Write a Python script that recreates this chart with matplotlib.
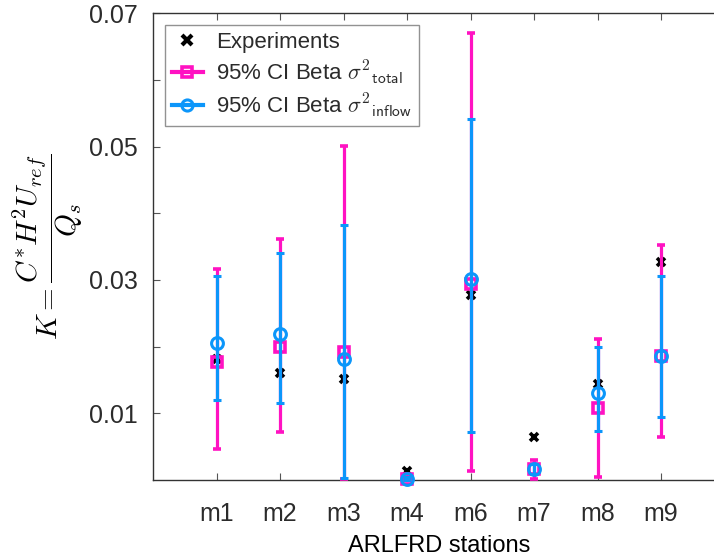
import matplotlib
matplotlib.use("Agg")
import matplotlib.pyplot as plt
from matplotlib.lines import Line2D
import numpy as np

stations = ["m1", "m2", "m3", "m4", "m6", "m7", "m8", "m9"]
experiments = [0.0182, 0.0160, 0.0152, 0.0014, 0.0278, 0.0064, 0.0144, 0.0327]

total_mid = [0.0177, 0.0199, 0.0192, 0.0002, 0.0294, 0.0017, 0.0108, 0.0186]
total_low = [0.0046, 0.0072, 0.0002, 0.0000, 0.0014, 0.0001, 0.0004, 0.0064]
total_high = [0.0317, 0.0362, 0.0501, 0.0005, 0.0671, 0.0030, 0.0211, 0.0352]

inflow_mid = [0.0205, 0.0219, 0.0182, 0.0002, 0.0302, 0.0016, 0.0130, 0.0186]
inflow_low = [0.0120, 0.0115, 0.0003, 0.0000, 0.0072, 0.0009, 0.0074, 0.0095]
inflow_high = [0.0306, 0.0340, 0.0383, 0.0004, 0.0542, 0.0024, 0.0199, 0.0306]

yticks = [0.01, 0.02, 0.03, 0.04, 0.05, 0.06, 0.07]
ytick_labels = ["0.01", "", "0.03", "", "0.05", "", "0.07"]

PINK = "#FF12C2"
BLUE = "#0C96FA"
TXT = "#2b2b2b"
FONT = ["Liberation Sans", "DejaVu Sans"]

plt.rcParams["font.family"] = FONT
plt.rcParams["text.color"] = TXT
plt.rcParams["xtick.labelcolor"] = TXT
plt.rcParams["ytick.labelcolor"] = TXT
plt.rcParams["mathtext.fontset"] = "cm"

fig = plt.figure(figsize=(7.14, 5.57), dpi=100)
ax = fig.add_axes([153 / 714, 77 / 557, 571.5 / 714, 466.7 / 557])

x = np.arange(1, len(stations) + 1)

ax.plot(x, experiments, linestyle="none", marker="x", color="black",
        markersize=6, markeredgewidth=2.6, clip_on=False, zorder=3)

def ci(mid, low, high):
    mid = np.array(mid); low = np.array(low); high = np.array(high)
    return mid, np.vstack([mid - low, high - mid])

m, err = ci(total_mid, total_low, total_high)
ax.errorbar(x, m, yerr=err, fmt="s", color=PINK, ecolor=PINK, elinewidth=2.3,
            capsize=3.2, capthick=2.3, markersize=7, markerfacecolor="none",
            markeredgewidth=2.6, clip_on=False, zorder=4)

m, err = ci(inflow_mid, inflow_low, inflow_high)
ax.errorbar(x, m, yerr=err, fmt="o", color=BLUE, ecolor=BLUE, elinewidth=2.3,
            capsize=3.2, capthick=2.3, markersize=8.5, markerfacecolor="none",
            markeredgewidth=2.2, clip_on=False, zorder=5)

ax.set_xlim(0, 9)
ax.set_ylim(0, 0.07)
ax.set_xticks(x)
ax.set_xticklabels(stations, fontsize=18)
ax.set_yticks(yticks)
ax.set_yticklabels(ytick_labels, fontsize=18)
ax.tick_params(direction="in", length=5, width=0.8, color="#555555",
               top=True, right=True)
ax.tick_params(axis="x", pad=16)
ax.tick_params(axis="y", pad=11)
for s in ax.spines.values():
    s.set_color("#333333")
    s.set_linewidth(1.0)

ax.set_xlabel("ARLFRD stations", fontsize=17, labelpad=6)
ax.set_ylabel(r"$K = \dfrac{C^{*}H^{2}U_{ref}}{Q_s}$", fontsize=21, labelpad=3,
              color="black")

handles = [
    Line2D([], [], linestyle="none", marker="x", color="black", markersize=7,
           markeredgewidth=3),
    Line2D([], [], color=PINK, linewidth=3, marker="s", markersize=7,
           markerfacecolor="none", markeredgewidth=2.6),
    Line2D([], [], color=BLUE, linewidth=3, marker="o", markersize=8,
           markerfacecolor="none", markeredgewidth=2.2),
]
labels = ["Experiments", r"95% CI Beta $\sigma^{2}{}_{\mathsf{total}}$",
          r"95% CI Beta $\sigma^{2}{}_{\mathsf{inflow}}$"]
leg = ax.legend(handles, labels, loc="upper left", bbox_to_anchor=(0.021, 0.975),
                fontsize=16, frameon=True, fancybox=False, handlelength=1.4,
                handletextpad=0.6, borderpad=0.3, labelspacing=0.25,
                borderaxespad=0)
leg.get_frame().set_edgecolor("#777777")
leg.get_frame().set_linewidth(1.0)

fig.savefig("out.png", dpi=100)
